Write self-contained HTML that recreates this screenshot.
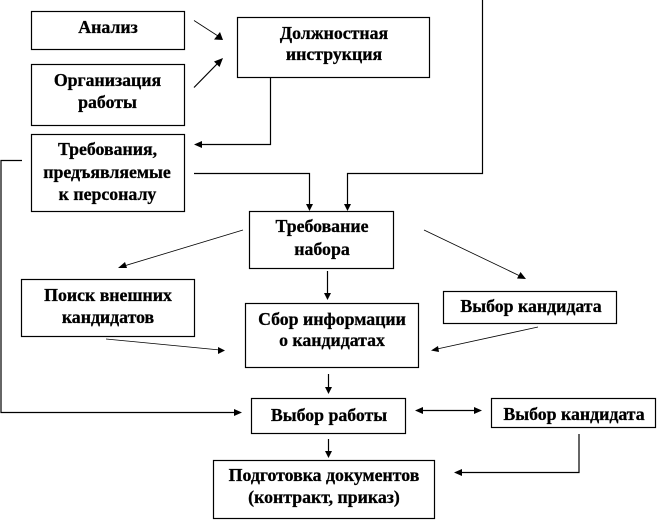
<!DOCTYPE html>
<html lang="ru">
<head>
<meta charset="utf-8">
<style>
html,body{margin:0;padding:0;background:#fff;width:658px;height:521px;overflow:hidden}
svg{display:block}
text{font-family:"Liberation Serif","Noto Serif CJK SC",serif;font-weight:bold;font-size:17.8px;fill:#000;text-anchor:middle;stroke:#000;stroke-width:.3px}
rect{fill:#fff;stroke:#000;stroke-width:1.2}
.l{fill:none;stroke:#000;stroke-width:1.2}
.t{fill:none;stroke:#000;stroke-width:.8}
.a{fill:#000}
</style>
</head>
<body>
<svg width="658" height="521" viewBox="0 0 658 521" xmlns="http://www.w3.org/2000/svg">
<rect x="31.5" y="11.5" width="153" height="38"/>
<rect x="31.5" y="64.5" width="153" height="61"/>
<rect x="31.5" y="134.5" width="153" height="77"/>
<rect x="237.5" y="17.5" width="192" height="60"/>
<rect x="249.5" y="211.5" width="144" height="57"/>
<rect x="21.5" y="279.5" width="173" height="57"/>
<rect x="245.5" y="303.5" width="173" height="64"/>
<rect x="443.5" y="291.5" width="173" height="32"/>
<rect x="251.5" y="398.5" width="154" height="35"/>
<rect x="491.5" y="398.5" width="164" height="29"/>
<rect x="213.5" y="460.5" width="221" height="58"/>

<polyline class="t" points="194,20.5 218,36"/>
<polygon class="a" points="223,40 214,39.5 220,32"/>
<polyline class="l" points="194,87.5 218,63"/>
<polygon class="a" points="223,58 219.5,67 214,61.5"/>
<polyline class="l" points="270.5,77 270.5,144.5 200,144.5"/>
<polygon class="a" points="194,144.5 202,141 202,148"/>
<polyline class="l" points="194,173.5 309.5,173.5 309.5,205"/>
<polygon class="a" points="309.5,211 306,204 313,204"/>
<polyline class="l" points="482.5,0 482.5,173.5 347.5,173.5 347.5,205"/>
<polygon class="a" points="347.5,211 344,204 351,204"/>
<polyline class="l" points="22,160.5 1,160.5 1,412.5 236,412.5"/>
<polygon class="a" points="242,412.5 234,409 234,416"/>
<polyline class="t" points="243,230 124,266"/>
<polygon class="a" points="118,268 125,262 127,268"/>
<polyline class="t" points="424,230 520,276"/>
<polygon class="a" points="526,279 517,278.500 520.500,272"/>
<polyline class="l" points="327.500,271 327.500,294"/>
<polygon class="a" points="327.500,300 324,293 331,293"/>
<polyline class="t" points="106,339 220,350"/>
<polygon class="a" points="225,350.500 218,347 218,354"/>
<polyline class="t" points="538,327 437,349"/>
<polygon class="a" points="431,350.500 438,346 439,352"/>
<polyline class="l" points="328.500,374 328.500,388"/>
<polygon class="a" points="328.500,394 325,387 332,387"/>
<polyline class="l" points="420,410.500 477,410.500"/>
<polygon class="a" points="415,410.500 423,407 423,414"/>
<polygon class="a" points="482,410.500 474,407 474,414"/>
<polyline class="l" points="328.500,439 328.500,452"/>
<polygon class="a" points="328.500,458 325,451 332,451"/>
<polyline class="l" points="579,434 579,472.500 460,472.500"/>
<polygon class="a" points="454,472.500 462,469 462,476"/>

<text x="108" y="33">Анализ</text>
<text x="107.500" y="86">Организация</text>
<text x="107.500" y="108">работы</text>
<text x="334" y="39">Должностная</text>
<text x="334" y="60">инструкция</text>
<text x="107.500" y="155">Требования,</text>
<text x="107" y="178">предъявляемые</text>
<text x="107.500" y="200">к персоналу</text>
<text x="322" y="232">Требование</text>
<text x="322" y="255">набора</text>
<text x="108" y="301">Поиск внешних</text>
<text x="108" y="323">кандидатов</text>
<text x="332" y="325">Сбор информации</text>
<text x="332" y="346">о кандидатах</text>
<text x="531" y="312">Выбор кандидата</text>
<text x="329" y="421">Выбор работы</text>
<text x="574" y="420">Выбор кандидата</text>
<text x="324" y="481">Подготовка документов</text>
<text x="324" y="503">(контракт, приказ)</text>
</svg>
</body>
</html>
